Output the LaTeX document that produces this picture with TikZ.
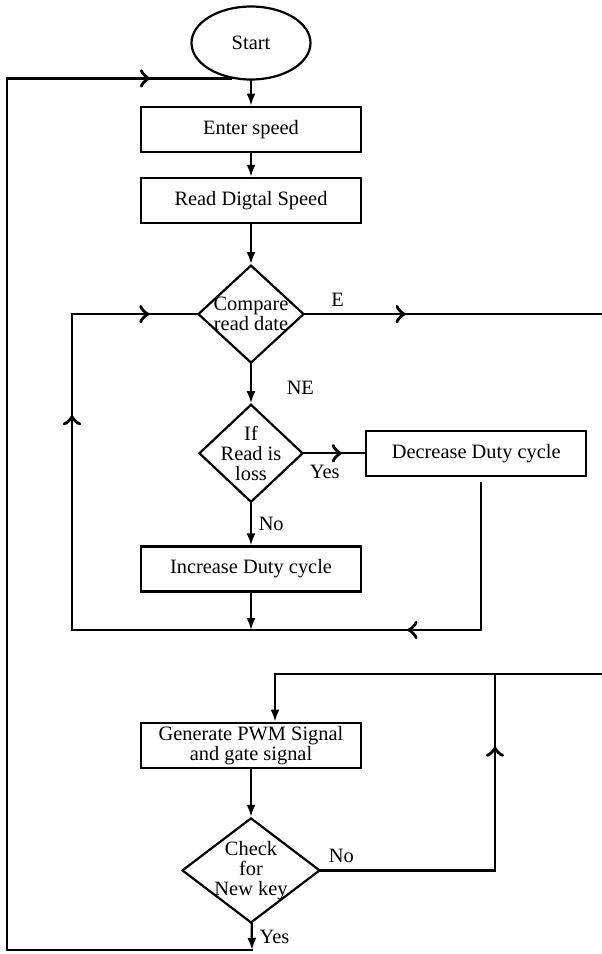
\documentclass[tikz,border=0pt]{standalone}
\usepackage{fontspec}
\setmainfont{Liberation Serif}
\usetikzlibrary{arrows,arrows.meta}
\usetikzlibrary{positioning}
\usetikzlibrary{shapes.geometric}
\usetikzlibrary{decorations.markings}

\begin{document}
\begin{tikzpicture}[>={Latex[length=6pt,width=4.5pt]},line width=1.1pt,line cap=rect,
  every node/.style={font=\fontsize{10.2}{10}\selectfont},
  start node/.style={ellipse,draw,minimum width=59.5pt,minimum height=36.5pt,inner sep=0pt},
  proc node/.style={rectangle,draw,minimum width=110pt,minimum height=22.5pt,align=center,inner sep=1pt},
  test node/.style={diamond,draw,align=center,inner sep=-9pt},
  chev/.style={postaction={decorate,decoration={markings,
      mark=at position #1 with {\arrow[scale=1.6]{to}}}}}]

  \useasboundingbox (0,0) rectangle (300.5pt,-477pt);

  \node[start node] (start) at (125.5pt,-21.5pt) {Start};
  \node[proc node] (enter) [below=12.5pt of start] {Enter speed};
  \node[proc node] (read) [below=12pt of enter] {Read Digtal Speed};
  \node[test node,minimum width=53pt,minimum height=49pt] (cmp) [below=20pt of read] {Compare\\read date};
  \node[test node,minimum width=52pt,minimum height=49pt] (ifl) [below=19.5pt of cmp] {If\\Read is\\loss};
  \node[proc node] (dec) [right=30.5pt of ifl] {Decrease Duty cycle};
  \node[proc node] (inc) [below=21pt of ifl] {Increase Duty cycle};
  \node[proc node] (gen) [below=64.5pt of inc] {Generate PWM Signal\\and gate signal};
  \node[test node,minimum width=69pt,minimum height=52.5pt] (chk) [below=24pt of gen] {Check\\for\\New key};

  \coordinate (rim) at (300.5pt,0);
  \coordinate (fbR) at (240.5pt,-315pt);
  \coordinate (fbL) at (36pt,-315pt);
  \coordinate (pwmR) at (300.5pt,-337pt);
  \coordinate (pwmJ) at (247.5pt,-337pt);
  \coordinate (pwmL) at (137.5pt,-337pt);
  \coordinate (yesEnd) at (126pt,-475pt);
  \coordinate (botL) at (3.5pt,-475pt);

  % main flow
  \draw[->] (start) -- (enter);
  \draw[->] (enter) -- (read);
  \draw[->] (read) -- (cmp);
  \draw[->] (cmp) -- node[right=14pt,pos=0.6] (lblNE) {NE} (ifl);
  \draw[chev=0.62] (ifl.east) -- (dec.west);
  \node (lblYes) [below right=2pt and -1pt of ifl.east] {Yes};
  \draw[->] (ifl) -- node[right] (lblNo) {No} (inc);
  \draw[->] (inc) -- (inc |- fbR);

  % feedback to compare
  \draw ([yshift=-3pt]dec.south -| fbR) -- (fbR);
  \draw[chev=0.18] (fbR) -- (fbL);
  \draw[chev=0.68] (fbL) -- (fbL |- cmp.west);
  \draw[chev=0.62] (fbL |- cmp.west) -- (cmp.west);
  \draw[chev=0.34] (cmp.east) -- node[above,pos=0.11] (lblE) {E} (cmp.east -| rim);

  % pwm part
  \draw (pwmR) -- (pwmL);
  \draw[->] (pwmL) -- (pwmL |- gen.north);
  \draw[->] (gen) -- (chk);
  \draw (chk.east) -- (chk.east -| pwmJ);
  \draw[chev=0.63] (chk.east -| pwmJ) -- (pwmJ);
  \node (lblNo2) [above right=0pt and 0pt of chk.east] {No};
  \draw[->] (chk) -- node[right] (lblYes2) {Yes} (yesEnd);

  % back to start
  \draw (yesEnd) -- (botL) -- (botL |- start.240);
  \draw[chev=0.64] (botL |- start.240) -- (start.240);
\end{tikzpicture}
\end{document}
